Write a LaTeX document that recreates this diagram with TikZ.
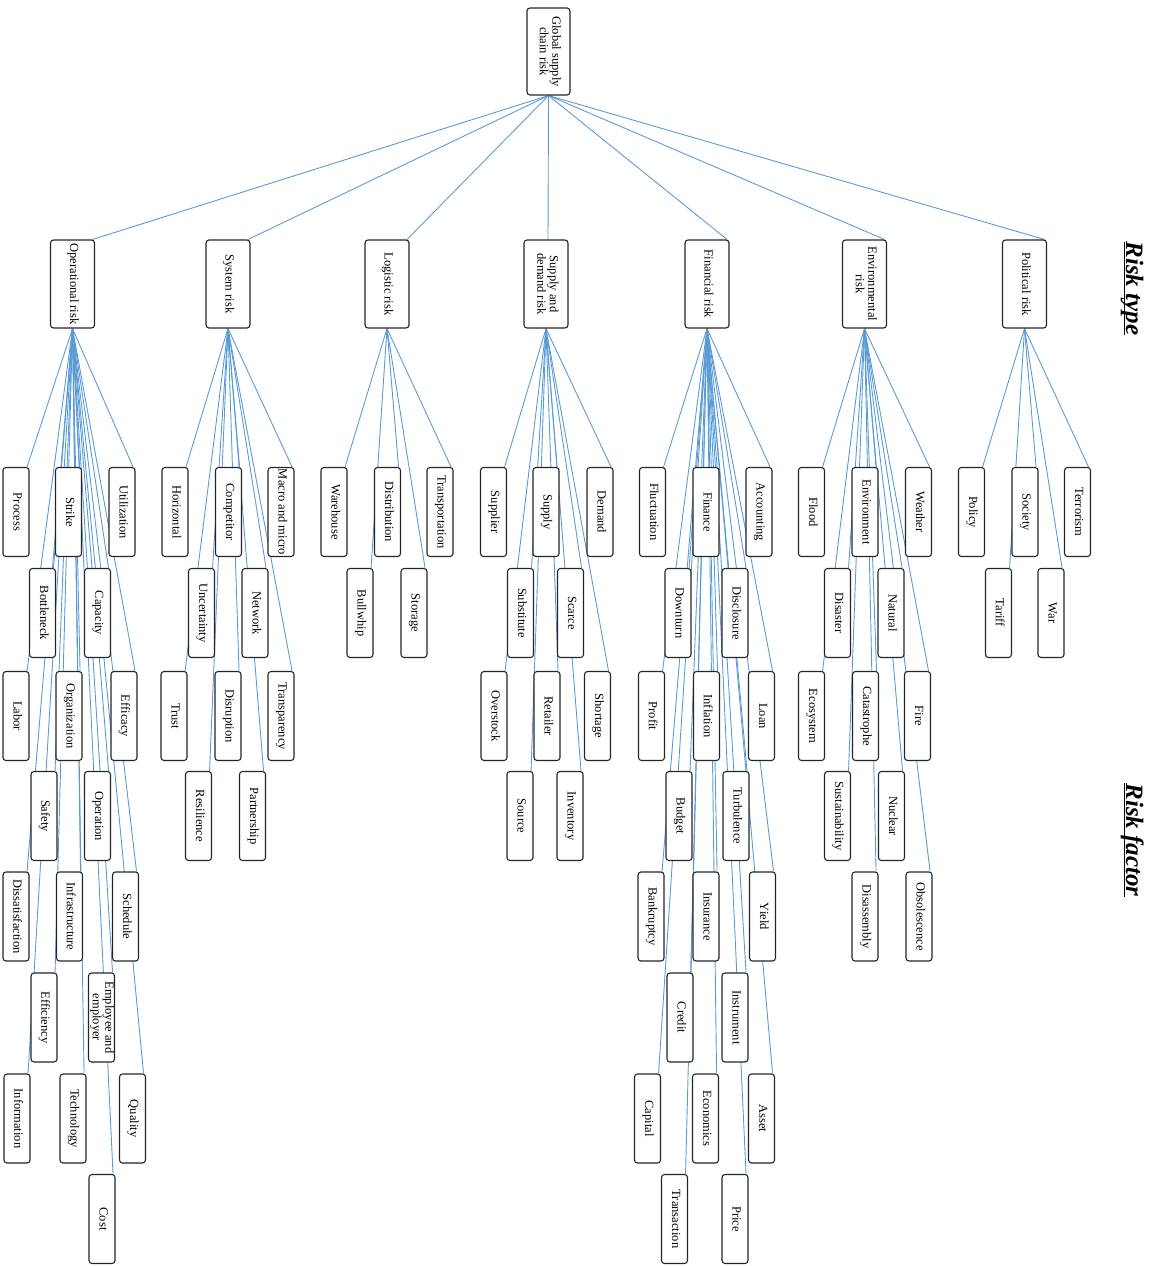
\documentclass[tikz,border=0pt]{standalone}
\usepackage{fontspec}
\setmainfont{Liberation Serif}
\usepackage{graphicx}
\usetikzlibrary{backgrounds}
\definecolor{linkblue}{RGB}{91,155,213}
\newcommand{\vtext}[1]{\rotatebox{-90}{\begin{tabular}{@{}c@{}}#1\end{tabular}}}
\tikzset{rbox/.style={draw=black!85, line width=1.1pt, rounded corners=3pt, fill=white, inner sep=0pt, font=\fontsize{12.5}{12.5}\selectfont}}
\tikzset{leaf/.style={rbox, minimum width=26pt, minimum height=89pt}}
\tikzset{rtype/.style={rbox, minimum width=44pt, minimum height=88pt}}
\tikzset{link/.style={linkblue, line width=0.9pt}}
\tikzset{rlabel/.style={rotate=-90, font=\fontsize{25}{30}\selectfont\bfseries\itshape}}
% risk factors of one risk type: name/x/y/text
\newcommand{\factors}[2]{%
  \foreach \nm/\px/\py/\lbl in {#2} {
    \node[leaf] (\nm) at (\px,\py) {\vtext{\lbl}};
    \begin{scope}[on background layer]
      \draw[link] (#1.south) -- ([xshift=-2.5pt]\nm.north east);
    \end{scope}
  }}

\begin{document}
\begin{tikzpicture}[x=1pt, y=-1pt]
  \useasboundingbox (0,0) rectangle (1149,1266);

  \node[rbox, minimum width=43pt, minimum height=87pt] (root) at (548.5,51.5) {\vtext{Global supply\\chain risk}};

  % risk types
  \foreach \nm/\px/\lbl in {op/72.5/Operational risk, sys/228/System risk, log/387/Logistic risk,
      sd/546/Supply and\\demand risk, fin/707/Financial risk, env/864.5/Environmental\\risk, pol/1024.5/Political risk}
    \node[rtype] (\nm) at (\px,284) {\vtext{\lbl}};

  \begin{scope}[on background layer]
    \foreach \nm in {op, sys, log, fin, env, pol}
      \draw[link] (root.south) -- ([xshift=-2.5pt]\nm.north east);
    \draw[link] (root.south) -- ([xshift=2pt]sd.north);
  \end{scope}

  % risk factors
  \factors{op}{process/16/512/Process, strike/68.5/512/Strike, utilization/122/512/Utilization,
    bottleneck/42.5/613/Bottleneck, capacity/97.5/613/Capacity,
    labor/16/716/Labor, organization/69/716/Organization, efficacy/124/716/Efficacy,
    safety/44/816/Safety, operation/97.5/816/Operation,
    dissatisfaction/16/916.5/Dissatisfaction, infrastructure/69.5/916.5/Infrastructure, schedule/125.5/916.5/Schedule,
    efficiency/44/1017.5/Efficiency, employee/101.5/1017.5/Employee and\\employer,
    information/17/1118.5/Information, technology/73/1118.5/Technology, quality/132.5/1118.5/Quality,
    cost/102/1219/Cost}

  \factors{sys}{horizontal/175/512/Horizontal, competitor/228.5/512/Competitor, macro/281/512/Macro and micro,
    uncertainty/201.5/613/Uncertainty, network/255/613/Network,
    trust/174/716/Trust, disruption/228/716/Disruption, transparency/281/716/Transparency,
    resilience/198.5/816/Resilience, partnership/252.5/816/Partnership}

  \factors{log}{warehouse/334/512/Warehouse, distribution/387.5/512/Distribution, transportation/440/512/Transportation,
    bullwhip/360/613/Bullwhip, storage/414/613/Storage}

  \factors{sd}{supplier/493.5/512/Supplier, supply/546/512/Supply, demand/600/512/Demand,
    substitute/520.5/613/Substitute, scarce/570.5/613/Scarce,
    overstock/494/716/Overstock, retailer/547/716/Retailer, shortage/597.5/716/Shortage,
    source/520/816/Source, inventory/570/816/Inventory}

  \factors{fin}{fluctuation/652.5/512/Fluctuation, finance/706/512/Finance, accounting/759/512/Accounting,
    downturn/678/613/Downturn, disclosure/735/613/Disclosure,
    profit/651.5/716/Profit, inflation/706.5/716/Inflation, loan/761.5/716/Loan,
    budget/679/816/Budget, turbulence/736/816/Turbulence,
    bankruptcy/651/916.5/Bankruptcy, insurance/706/916.5/Insurance, yield/762.5/916.5/Yield,
    credit/680/1017.5/Credit, instrument/735/1017.5/Instrument,
    capital/647.5/1118.5/Capital, economics/705.5/1118.5/Economics, asset/761.5/1118.5/Asset,
    transaction/674.5/1219/Transaction, price/735/1219/Price}

  \factors{env}{flood/811.5/512/Flood, environment/865/512/Environment, weather/918.5/512/Weather,
    disaster/837.5/613/Disaster, natural/891/613/Natural,
    ecosystem/811.5/716/Ecosystem, catastrophe/865.5/716/Catastrophe, fire/917.5/716/Fire,
    sustainability/837.5/816/Sustainability, nuclear/891.5/816/Nuclear,
    disassembly/865/916.5/Disassembly, obsolescence/919/916.5/Obsolescence}

  \factors{pol}{policy/971.5/512/Policy, society/1025/512/Society, terrorism/1077.5/512/Terrorism,
    tariff/998.5/613/Tariff, war/1051/613/War}

  % level labels
  \node[rlabel] (typelabel) at (1125,288.5) {\underline{\smash{Risk type}}};
  \node[rlabel] (factorlabel) at (1125,840) {\underline{\smash{Risk factor}}};
\end{tikzpicture}
\end{document}
